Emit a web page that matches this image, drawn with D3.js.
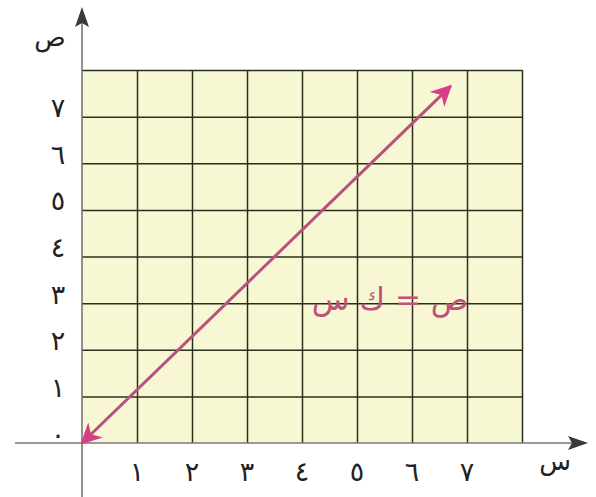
<!DOCTYPE html>
<html>
<head>
<meta charset="utf-8">
<script src="https://cdn.jsdelivr.net/npm/d3@7"></script>
<style>
  body { margin: 0; background: #fff; }
  text { font-family: "DejaVu Sans", sans-serif; }
</style>
</head>
<body>
<div id="chart"></div>
<script>
// data
var gridSteps = [0, 1, 2, 3, 4, 5, 6, 7, 8];
var xTicks = [1, 2, 3, 4, 5, 6, 7];
var xTickLabels = ["١", "٢", "٣", "٤", "٥", "٦", "٧"];
var yTicks = [0, 1, 2, 3, 4, 5, 6, 7];
var yTickLabels = ["٠", "١", "٢", "٣", "٤", "٥", "٦", "٧"];
var lineX = [0, 6.7];
var lineY = [0, 7.65];
var xTitle = "س";
var yTitle = "ص";
var equation = "ص = ك س";

var width = 596, height = 497;

var svg = d3.select("#chart")
  .append("svg")
  .attr("width", width)
  .attr("height", height);

var x = d3.scaleLinear().domain([0, 8]).range([82, 522]);
var y = d3.scaleLinear().domain([0, 8]).range([443, 70]);

// plot area
svg.append("rect")
  .attr("x", x(0))
  .attr("y", y(8))
  .attr("width", x(8) - x(0))
  .attr("height", y(0) - y(8))
  .attr("fill", "#f7f8d3");

// grid lines
svg.append("g")
  .attr("transform", "translate(0," + y(0) + ")")
  .call(d3.axisBottom(x).tickValues(gridSteps.slice(1)).tickSize(-(y(0) - y(8))).tickFormat(""))
  .call(function (g) { g.select(".domain").remove(); })
  .selectAll("line")
  .attr("stroke", "#2a2e1c")
  .attr("stroke-width", 1.5);

svg.append("g")
  .attr("transform", "translate(" + x(0) + ",0)")
  .call(d3.axisLeft(y).tickValues(gridSteps.slice(1)).tickSize(-(x(8) - x(0))).tickFormat(""))
  .call(function (g) { g.select(".domain").remove(); })
  .selectAll("line")
  .attr("stroke", "#2a2e1c")
  .attr("stroke-width", 1.5);

// arrow markers
var defs = svg.append("defs");
defs.append("marker")
  .attr("id", "axisArrow")
  .attr("viewBox", "0 0 10 10")
  .attr("refX", 9)
  .attr("refY", 5)
  .attr("markerWidth", 20)
  .attr("markerHeight", 14)
  .attr("preserveAspectRatio", "none")
  .attr("markerUnits", "userSpaceOnUse")
  .attr("orient", "auto")
  .append("path")
  .attr("d", "M0,0 L10,5 L0,10 L2,5 Z")
  .attr("fill", "#3a3a3a");

defs.append("marker")
  .attr("id", "lineArrow")
  .attr("viewBox", "0 0 10 10")
  .attr("refX", 9)
  .attr("refY", 5)
  .attr("markerWidth", 7)
  .attr("markerHeight", 7)
  .attr("orient", "auto-start-reverse")
  .append("path")
  .attr("d", "M0,0 L10,5 L0,10 L3,5 Z")
  .attr("fill", "#d93d86");

// axes
svg.append("line")
  .attr("x1", 15).attr("y1", y(0))
  .attr("x2", 586).attr("y2", y(0))
  .attr("stroke", "#777")
  .attr("stroke-width", 1.6)
  .attr("marker-end", "url(#axisArrow)");

svg.append("line")
  .attr("x1", x(0)).attr("y1", height)
  .attr("x2", x(0)).attr("y2", 9)
  .attr("stroke", "#777")
  .attr("stroke-width", 1.6)
  .attr("marker-end", "url(#axisArrow)");

// tick labels
svg.selectAll(".xlab")
  .data(xTicks)
  .enter()
  .append("text")
  .attr("class", "xlab")
  .attr("x", function (d) { return x(d); })
  .attr("y", 481)
  .attr("text-anchor", "middle")
  .attr("font-size", 27)
  .attr("fill", "#222")
  .text(function (d, i) { return xTickLabels[i]; });

svg.selectAll(".ylab")
  .data(yTicks)
  .enter()
  .append("text")
  .attr("class", "ylab")
  .attr("x", 58)
  .attr("y", function (d) { return y(d) - 9; })
  .attr("text-anchor", "middle")
  .attr("dominant-baseline", "central")
  .attr("font-size", 27)
  .attr("fill", "#222")
  .text(function (d, i) { return yTickLabels[i]; });

// axis titles
svg.append("text")
  .attr("x", 555)
  .attr("y", 470)
  .attr("text-anchor", "middle")
  .attr("font-size", 26)
  .attr("fill", "#222")
  .text(xTitle);

svg.append("text")
  .attr("x", 50)
  .attr("y", 46)
  .attr("text-anchor", "middle")
  .attr("font-size", 26)
  .attr("fill", "#222")
  .text(yTitle);

// the line y = kx
var lineData = lineX.map(function (d, i) { return [d, lineY[i]]; });
svg.append("path")
  .datum(lineData)
  .attr("d", d3.line().x(function (d) { return x(d[0]); }).y(function (d) { return y(d[1]); }))
  .attr("fill", "none")
  .attr("stroke", "#b8517c")
  .attr("stroke-width", 3)
  .attr("marker-start", "url(#lineArrow)")
  .attr("marker-end", "url(#lineArrow)");

// equation
svg.append("text")
  .attr("x", 390)
  .attr("y", 310)
  .attr("text-anchor", "middle")
  .attr("direction", "rtl")
  .attr("font-size", 31)
  .attr("fill", "#c0507c")
  .text(equation);
</script>
</body>
</html>
